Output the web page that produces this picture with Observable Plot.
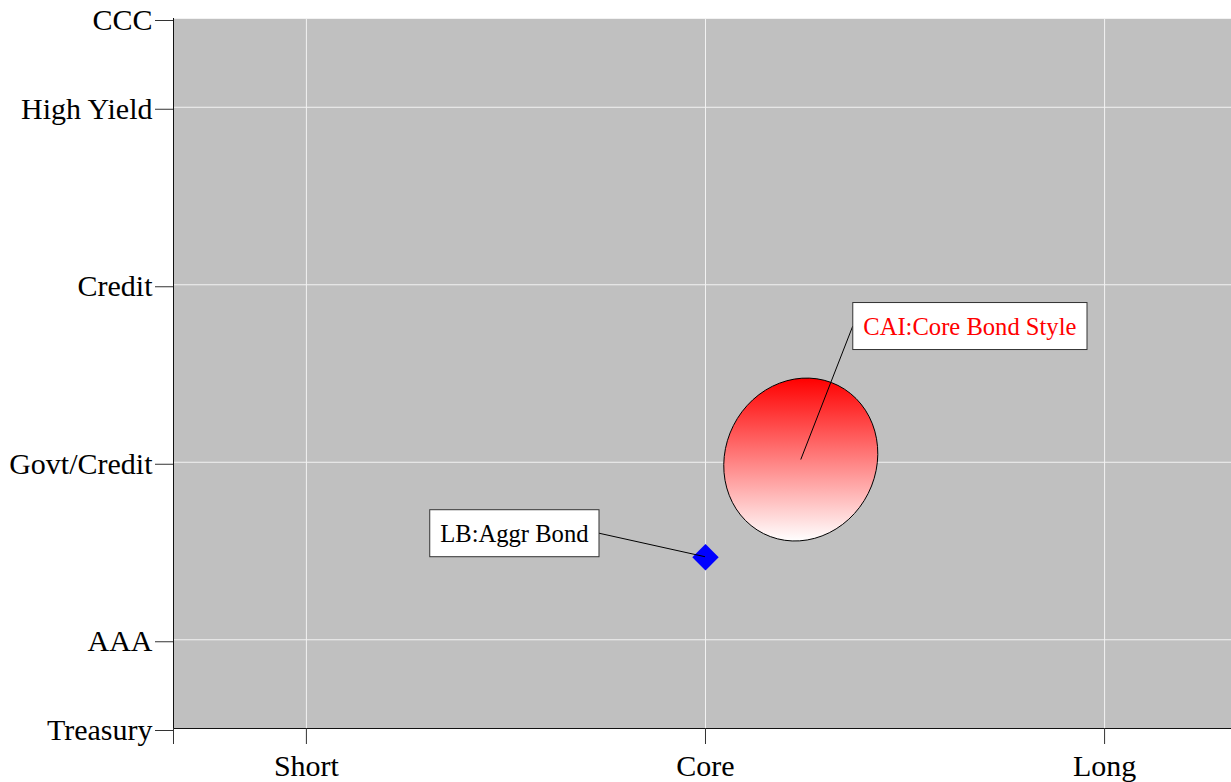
<!DOCTYPE html>
<html>
<head>
<meta charset="utf-8">
<script src="https://cdn.jsdelivr.net/npm/d3@7"></script>
<script src="https://cdn.jsdelivr.net/npm/@observablehq/plot@0.6"></script>
<style>
  html, body { margin: 0; padding: 0; background: #ffffff; }
  #chart svg { display: block; }
</style>
</head>
<body>
<div id="chart"></div>
<script>
// ---- data ----
const styleLabels = ["Short", "Core", "Long"];
const styleValues = [1, 2, 3];
const styleDomain = [0.667, 3.318];

const qualityLabels = ["Treasury", "AAA", "Govt/Credit", "Credit", "High Yield", "CCC"];
const qualityValues = [0, 1, 3, 5, 7, 8];
const qualityDomain = [0, 8];

const managerNames = ["CAI:Core Bond Style"];
const managerStyle = [2.24];
const managerQuality = [3.025];
const managerStyleSpread = [0.193];
const managerQualitySpread = [0.918];

const indexNames = ["LB:Aggr Bond"];
const indexStyle = [2.0];
const indexQuality = [1.93];

// ---- layout / style ----
const FONT = '"Liberation Serif", "Times New Roman", Times, serif';
const AXIS_FONT_SIZE = 30;
const LABEL_FONT_SIZE = 24.6;
const LABEL_PAD = 10.5;
const ELLIPSE_TILT = 26.7; // degrees, clockwise
const labelLayout = {
  "CAI:Core Bond Style": {dx: 52, dy: -133.5, side: "left", color: "#ff0000"},
  "LB:Aggr Bond": {dx: -106, dy: -23.5, side: "right", color: "#000000"}
};

const managers = managerNames.map((name, i) => ({
  name, x: managerStyle[i], y: managerQuality[i],
  sx: managerStyleSpread[i], sy: managerQualitySpread[i]
}));
const indices = indexNames.map((name, i) => ({name, x: indexStyle[i], y: indexQuality[i]}));
const labelled = [...managers, ...indices];

function findScales(args) {
  return args.find(a => a && typeof a.x === "function" && typeof a.y === "function");
}

function ellipseMark(...args) {
  const {x, y} = findScales(args);
  const g = d3.create("svg:g");
  const grad = g.append("defs").append("linearGradient")
    .attr("id", "mgrFade").attr("x1", 0).attr("y1", 0).attr("x2", 0).attr("y2", 1);
  grad.append("stop").attr("offset", 0).attr("stop-color", "#ff0000");
  grad.append("stop").attr("offset", 1).attr("stop-color", "#ffffff");
  const th = ELLIPSE_TILT * Math.PI / 180;
  const co = Math.cos(th), si = Math.sin(th);
  const c2 = co * co, s2 = si * si, k = Math.cos(2 * th);
  for (const m of managers) {
    const cx = x(m.x), cy = y(m.y);
    const H = Math.abs(x(m.x + m.sx) - cx);
    const R = Math.abs(y(m.y + m.sy) - cy);
    const a = Math.sqrt((R * R * c2 - H * H * s2) / k);
    const b = Math.sqrt((H * H * c2 - R * R * s2) / k);
    const p1 = [cx + b * co, cy + b * si];
    const p2 = [cx - b * co, cy - b * si];
    const d = `M${p1[0]},${p1[1]}A${b},${a} ${ELLIPSE_TILT} 1 0 ${p2[0]},${p2[1]}A${b},${a} ${ELLIPSE_TILT} 1 0 ${p1[0]},${p1[1]}Z`;
    g.append("path").attr("d", d).attr("fill", "url(#mgrFade)")
      .attr("stroke", "#000").attr("stroke-width", 1);
  }
  return g.node();
}

function labelMark(...args) {
  const {x, y} = findScales(args);
  const g = d3.create("svg:g").attr("class", "anno-labels");
  for (const p of labelled) {
    const L = labelLayout[p.name];
    const px = x(p.x), py = y(p.y);
    const ax = px + L.dx, ay = py + L.dy;
    const lg = g.append("g").attr("class", "anno-label")
      .attr("data-side", L.side).attr("data-ay", ay);
    lg.append("line").attr("x1", ax).attr("y1", ay).attr("x2", px).attr("y2", py)
      .attr("stroke", "#000").attr("stroke-width", 1);
    lg.append("rect").attr("fill", "#fff").attr("stroke", "#333").attr("stroke-width", 1);
    lg.append("text")
      .attr("x", L.side === "left" ? ax + LABEL_PAD : ax - LABEL_PAD)
      .attr("y", ay).attr("dy", "0.35em")
      .attr("text-anchor", L.side === "left" ? "start" : "end")
      .attr("fill", L.color)
      .style("font-family", FONT).style("font-size", LABEL_FONT_SIZE + "px")
      .text(p.name);
  }
  return g.node();
}

const diamond = {
  draw(ctx, size) {
    const r = Math.sqrt(size / Math.PI) * 1.1;
    ctx.moveTo(0, -r); ctx.lineTo(r, 0); ctx.lineTo(0, r); ctx.lineTo(-r, 0); ctx.closePath();
  }
};

const xTicks = [styleDomain[0], ...styleValues];

const chart = Plot.plot({
  width: 1231,
  height: 782,
  marginLeft: 173,
  marginRight: 0,
  marginTop: 18,
  marginBottom: 54,
  style: {fontFamily: FONT, fontSize: AXIS_FONT_SIZE + "px", background: "#ffffff", color: "#000"},
  x: {domain: styleDomain, label: null},
  y: {domain: qualityDomain, label: null},
  marks: [
    Plot.frame({fill: "#c0c0c0", stroke: "none"}),
    Plot.gridX({ticks: styleValues, stroke: "#f2f2f2", strokeOpacity: 1, strokeWidth: 1}),
    Plot.gridY({ticks: qualityValues, stroke: "#f2f2f2", strokeOpacity: 1, strokeWidth: 1}),
    ellipseMark,
    Plot.dot(indices, {x: "x", y: "y", r: 12, symbol: diamond, fill: "#0000ff", stroke: "none"}),
    labelMark,
    Plot.ruleX([styleDomain[0]], {stroke: "#111"}),
    Plot.ruleY([qualityDomain[0]], {stroke: "#111"}),
    Plot.axisY({
      ticks: qualityValues,
      tickFormat: d => qualityLabels[qualityValues.indexOf(d)],
      tickSize: 18, tickPadding: 3, dy: 2, stroke: "#333", fill: "#000",
      fontSize: AXIS_FONT_SIZE, label: null
    }),
    Plot.axisX({
      ticks: xTicks,
      tickFormat: d => { const i = styleValues.indexOf(d); return i >= 0 ? styleLabels[i] : ""; },
      tickSize: 16, tickPadding: 10, stroke: "#333", fill: "#000",
      fontSize: AXIS_FONT_SIZE, label: null
    })
  ]
});

document.getElementById("chart").append(chart);

// size the label boxes around their texts
d3.select(chart).selectAll("g.anno-label").each(function () {
  const g = d3.select(this);
  const t = g.select("text").node().getBBox();
  const ay = +g.attr("data-ay");
  g.select("rect")
    .attr("x", t.x - LABEL_PAD).attr("width", t.width + 2 * LABEL_PAD)
    .attr("y", ay - 23.5).attr("height", 47);
});
</script>
</body>
</html>
